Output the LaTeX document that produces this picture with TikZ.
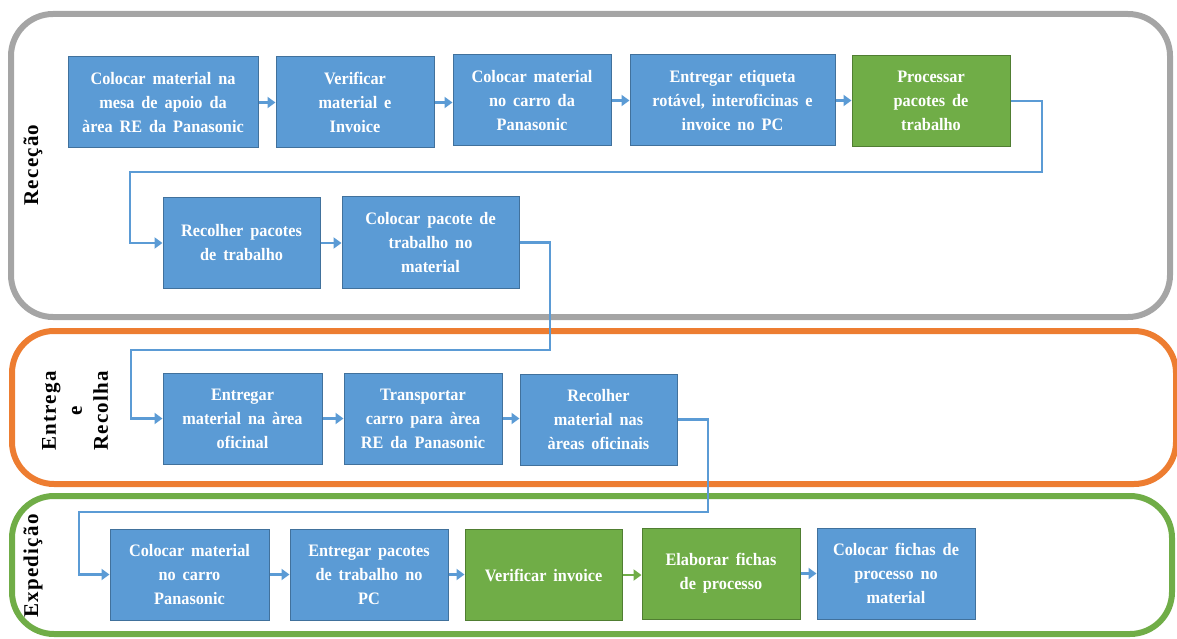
\documentclass[tikz,border=0pt]{standalone}
\usepackage{fontspec}
\setmainfont[FakeStretch=0.93,WordSpace=1.7]{Liberation Serif}
\newfontfamily\lanefont[LetterSpace=6]{Liberation Serif}
\usetikzlibrary{arrows.meta}
\definecolor{boxblue}{HTML}{5B9BD5}
\definecolor{boxblueb}{HTML}{41719C}
\definecolor{boxgreen}{HTML}{70AD47}
\definecolor{boxgreenb}{HTML}{507E32}
\definecolor{lanegray}{HTML}{A5A5A5}
\definecolor{laneorange}{HTML}{ED7D31}
\definecolor{lanegreen}{HTML}{70AD47}
\begin{document}
\begin{tikzpicture}[x=1pt,y=-1pt,
  boxbase/.style={line width=1pt, text=white, align=center, inner sep=0pt,
    font=\fontsize{17.5}{24}\selectfont\bfseries, minimum height=91pt},
  bluebox/.style={boxbase, draw=boxblueb, fill=boxblue},
  greenbox/.style={boxbase, draw=boxgreenb, fill=boxgreen},
  lane/.style={line width=6pt, rounded corners=42pt},
  lanelabel/.style={rotate=90, align=center, font=\lanefont\fontsize{21}{26}\selectfont\bfseries},
  conn/.style={draw=boxblue, line width=2.6pt, -{Triangle[length=8pt,width=11pt]}},
  conng/.style={draw=boxgreen, line width=2.6pt, -{Triangle[length=8pt,width=11pt]}}
]
\useasboundingbox (0,0) rectangle (1177,639);
% lanes
\draw[lane, draw=lanegray] (11,14) rectangle (1170,317);
\draw[lane, draw=laneorange] (12,331) rectangle (1176,484);
\draw[lane, draw=lanegreen] (12,496) rectangle (1172,634);
% lane labels
\node[lanelabel] (lrec) at (33,165) {Receção};
\node[lanelabel] (lent) at (75,411) {Entrega\\e\\Recolha};
\node[lanelabel] (lexp) at (33,566) {Expedição};
% row 1
\node[bluebox, minimum width=190pt] (n1) at (163,102.5) {Colocar material na\\mesa de apoio da\\àrea RE da Panasonic};
\node[bluebox, minimum width=158pt] (n2) at (355,102.5) {Verificar\\material e\\Invoice};
\node[bluebox, minimum width=158pt] (n3) at (532,100.5) {Colocar material\\no carro da\\Panasonic};
\node[bluebox, minimum width=205pt] (n4) at (732.5,100.5) {Entregar etiqueta\\rotável, interoficinas e\\invoice no PC};
\node[greenbox, minimum width=158pt] (n5) at (931,101) {Processar\\pacotes de\\trabalho};
% row 2
\node[bluebox, minimum width=157pt] (n6) at (241.5,243) {Recolher pacotes\\de trabalho};
\node[bluebox, minimum width=177pt] (n7) at (430.5,242.5) {Colocar pacote de\\trabalho no\\material};
% row 3
\node[bluebox, minimum width=159pt] (n8) at (242.5,418.5) {Entregar\\material na àrea\\oficinal};
\node[bluebox, minimum width=158pt] (n9) at (423,418.5) {Transportar\\carro para àrea\\RE da Panasonic};
\node[bluebox, minimum width=157pt] (n10) at (598.5,419.5) {Recolher\\material nas\\àreas oficinais};
% row 4
\node[bluebox, minimum width=159pt] (n11) at (189.5,574.5) {Colocar material\\no carro\\Panasonic};
\node[bluebox, minimum width=158pt] (n12) at (369,574.5) {Entregar pacotes\\de trabalho no\\PC};
\node[greenbox, minimum width=157pt] (n13) at (543.5,575) {Verificar invoice};
\node[greenbox, minimum width=158pt] (n14) at (721,573.5) {Elaborar fichas\\de processo};
\node[bluebox, minimum width=158pt] (n15) at (896,573.5) {Colocar fichas de\\processo no\\material};
% short connectors
\draw[conn] (n1.east) -- (n1.east -| n2.west);
\draw[conn] (n2.east) -- (n2.east -| n3.west);
\draw[conn] (n3.east) -- (n3.east -| n4.west);
\draw[conn] (n4.east) -- (n4.east -| n5.west);
\draw[conn] (n6.east) -- (n6.east -| n7.west);
\draw[conn] (n8.east) -- (n8.east -| n9.west);
\draw[conn] (n9.east) -- (n9.east -| n10.west);
\draw[conn] (n11.east) -- (n11.east -| n12.west);
\draw[conn] (n12.east) -- (n12.east -| n13.west);
\draw[conng] (n13.east) -- (n13.east -| n14.west);
\draw[conn] (n14.east) -- (n14.east -| n15.west);
% long connectors
\coordinate (c1) at (1042,172);
\coordinate (c2) at (130,172);
\coordinate (c3) at (550,350);
\coordinate (c4) at (131,350);
\coordinate (c5) at (708,512);
\coordinate (c6) at (79,512);
\draw[conn] (n5.east) -| (c1) -- (c2) |- (n6.west);
\draw[conn] (n7.east) -| (c3) -- (c4) |- (n8.west);
\draw[conn] (n10.east) -| (c5) -- (c6) |- (n11.west);
\end{tikzpicture}
\end{document}
